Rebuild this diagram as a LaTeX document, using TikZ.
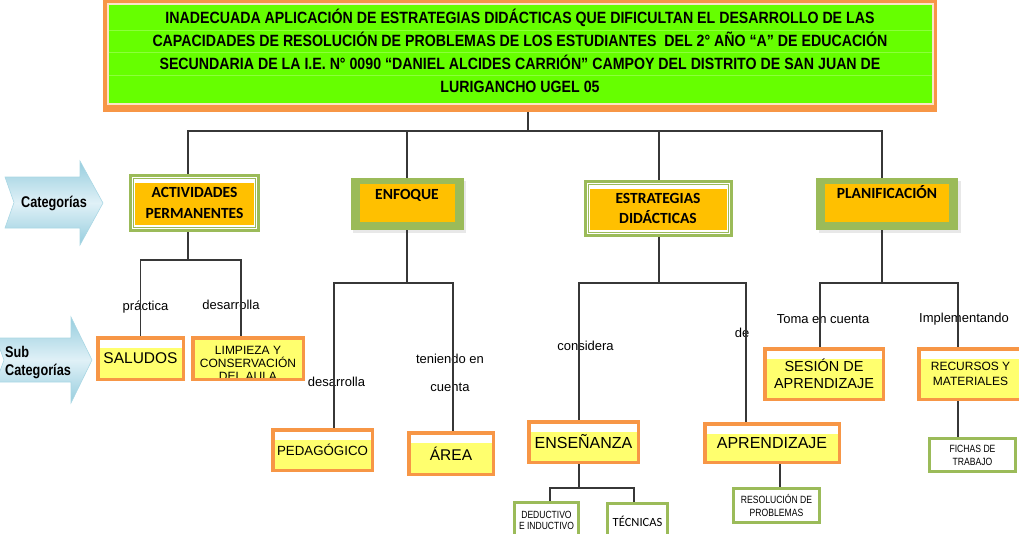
\documentclass[tikz,border=0pt]{standalone}
\usepackage{fontspec}
\setmainfont{Liberation Sans}
\newfontfamily\narrowfont{Liberation Sans}[FakeStretch=0.82]
\newfontfamily\headfont{Liberation Sans}[FakeStretch=0.87]
\newfontfamily\calfont{Carlito}
\usetikzlibrary{shadows}

\definecolor{boxorange}{RGB}{247,150,70}
\definecolor{boxyellow}{RGB}{255,255,110}
\definecolor{catgreen}{RGB}{155,187,89}
\definecolor{catorange}{RGB}{255,192,0}
\definecolor{headgreen}{RGB}{102,255,0}
\definecolor{rowgreen}{RGB}{140,255,60}
\definecolor{headpale}{RGB}{252,228,200}
\definecolor{arrowdark}{RGB}{150,205,222}
\definecolor{arrowlight}{RGB}{224,241,247}
\definecolor{arrowedge}{RGB}{170,215,228}
\definecolor{linkgray}{RGB}{55,55,55}

% fill an inset rectangle inside the current node: colour, side, top, bottom
\newcommand\insetfill[4]{%
  \fill[#1] ([shift={(#2,-#3)}]path picture bounding box.north west)
    rectangle ([shift={(-#2,#4)}]path picture bounding box.south east);}

\tikzset{
  headbox/.style={fill=boxorange, draw=none, inner sep=0pt, align=center,
    font=\headfont\bfseries\fontsize{16.3}{23}\selectfont,
    path picture={
      \insetfill{headpale}{3.5pt}{3.5pt}{7pt}
      \insetfill{headgreen}{5.5pt}{5.5pt}{9.5pt}
      \foreach \dy in {31,53.5,76}
        \draw[rowgreen, line width=0.7pt]
          ([shift={(5.5pt,-\dy pt)}]path picture bounding box.north west) --
          ([shift={(-5.5pt,-\dy pt)}]path picture bounding box.north east);
    }},
  catframed/.style={fill=catgreen, draw=none, inner sep=0pt, align=center,
    font=\calfont\bfseries\fontsize{15.5}{20.5}\selectfont,
    path picture={
      \insetfill{white}{3pt}{3pt}{3pt}
      \insetfill{catgreen}{4pt}{4pt}{4pt}
      \insetfill{white}{5pt}{5pt}{5pt}
      \insetfill{catorange}{6pt}{9pt}{7pt}
    }},
  catshadow/.style={fill=catgreen, draw=none, inner sep=0pt, align=center,
    font=\calfont\bfseries\fontsize{15.5}{20}\selectfont,
    drop shadow={shadow xshift=2.5pt, shadow yshift=-2.5pt, fill=black!18},
    path picture={
      \insetfill{catorange}{9pt}{6pt}{8pt}
    }},
  subbox/.style={draw=boxorange, line width=3.5pt, fill=boxyellow,
    inner sep=0pt, align=center,
    path picture={
      \fill[white] (path picture bounding box.north west) rectangle
        ([yshift=-10pt]path picture bounding box.north east);
    }},
  leafbox/.style={draw=catgreen, line width=3pt, fill=white, inner sep=0pt,
    align=center},
  link/.style={draw=linkgray, line width=1.1pt},
  verb/.style={inner sep=0pt, font=\fontsize{13}{28}\selectfont, align=center},
  sidetag/.style={inner sep=0pt, font=\narrowfont\bfseries\fontsize{15.5}{18}\selectfont},
  sidearrow/.style={top color=arrowdark, bottom color=arrowdark,
    middle color=arrowlight, draw=arrowedge, line width=0.6pt}
}

\begin{document}
\begin{tikzpicture}[x=1pt, y=-1pt]
\useasboundingbox (0,0) rectangle (1019,533);

% side arrows
\path[sidearrow] (5,177) -- (80,177) -- (80,161) -- (103,203) -- (80,245)
  -- (80,228) -- (5,228) -- (14,202.5) -- cycle;
\path[sidearrow] (-4,338) -- (71,338) -- (71,317) -- (92,360) -- (71,403)
  -- (71,382) -- (-4,382) -- (4,360) -- cycle;
\node[sidetag] (tagcat) at (54,203) {Categorías};
\node[sidetag, anchor=west, align=left] (tagsub) at (5,363) {Sub\\Categorías};

% main problem
\node[headbox, minimum width=834pt, minimum height=113pt, text depth=10pt]
  (head) at (520,55.5)
  {INADECUADA APLICACIÓN DE ESTRATEGIAS DIDÁCTICAS QUE DIFICULTAN EL DESARROLLO DE LAS\\
   CAPACIDADES DE RESOLUCIÓN DE PROBLEMAS DE LOS ESTUDIANTES~ DEL 2° AÑO “A” DE EDUCACIÓN\\
   SECUNDARIA DE LA I.E. N° 0090 “DANIEL ALCIDES CARRIÓN” CAMPOY DEL DISTRITO DE SAN JUAN DE\\
   LURIGANCHO UGEL 05};

% categories
\node[catframed, minimum width=131pt, minimum height=58pt] (act) at (194.5,203)
  {ACTIVIDADES\\PERMANENTES};
\node[catshadow, minimum width=113pt, minimum height=52pt,
  text height=12pt, text depth=21pt] (enf) at (407,204) {ENFOQUE};
\node[catframed, minimum width=149pt, minimum height=57pt] (est) at (658,208.5)
  {ESTRATEGIAS\\DIDÁCTICAS};
\node[catshadow, minimum width=142pt, minimum height=52pt,
  text height=12pt, text depth=24pt] (plan) at (887,204) {PLANIFICACIÓN};

% sub-categories
\node[subbox, minimum width=85.5pt, minimum height=41.5pt,
  font=\fontsize{15.5}{18}\selectfont] (salu) at (140.5,358.5) {SALUDOS};
\node[subbox, minimum width=110.5pt, minimum height=41.5pt,
  path picture={
    \node[font=\fontsize{12}{13.3}\selectfont, align=center, inner sep=0pt]
      (limptext) at ([yshift=-5pt]path picture bounding box.center)
      {LIMPIEZA Y\\CONSERVACIÓN\\DEL AULA};
  }] (limp) at (248,358.5) {};
\node[subbox, minimum width=99.5pt, minimum height=40.5pt,
  font=\fontsize{13.3}{16}\selectfont] (ped) at (322.5,450) {PEDAGÓGICO};
\node[subbox, minimum width=84.5pt, minimum height=41.5pt,
  font=\fontsize{15.5}{18}\selectfont] (area) at (451,453.5) {ÁREA};
\node[subbox, minimum width=109.5pt, minimum height=40.5pt,
  font=\fontsize{16}{18}\selectfont] (ens) at (583.5,442) {ENSEÑANZA};
\node[subbox, minimum width=134.5pt, minimum height=38.5pt,
  font=\fontsize{16}{18}\selectfont] (apr) at (772,443) {APRENDIZAJE};
\node[subbox, minimum width=118.5pt, minimum height=50.5pt,
  font=\fontsize{14.5}{17}\selectfont] (ses) at (824,374) {SESIÓN DE\\APRENDIZAJE};
\node[subbox, minimum width=103.5pt, minimum height=50.5pt,
  font=\fontsize{12}{15}\selectfont] (rec) at (970.5,374) {RECURSOS Y\\MATERIALES};

% leaves
\node[leafbox, minimum width=64pt, minimum height=35pt,
  font=\narrowfont\fontsize{10.4}{11}\selectfont] (ded) at (546.5,520)
  {DEDUCTIVO\\E INDUCTIVO};
\node[leafbox, minimum width=60pt, minimum height=35pt,
  font=\calfont\fontsize{12.5}{14}\selectfont] (tec) at (637.5,521) {TÉCNICAS};
\node[leafbox, minimum width=86pt, minimum height=34pt,
  font=\narrowfont\fontsize{10.5}{13}\selectfont] (res) at (776.5,505.5)
  {RESOLUCIÓN DE\\PROBLEMAS};
\node[leafbox, minimum width=86pt, minimum height=33pt,
  font=\narrowfont\fontsize{10.5}{13}\selectfont] (fich) at (972.5,455)
  {FICHAS DE\\TRABAJO};

% connector labels
\node[verb] (vprac) at (145.5,307) {práctica};
\node[verb] (vdes1) at (231,304.5) {desarrolla};
\node[verb] (vdes2) at (336.5,382) {desarrolla};
\node[verb] (vten) at (450,373) {teniendo en\\cuenta};
\node[verb] (vcon) at (585.5,346) {considera};
\node[verb] (vde) at (742,333) {de};
\node[verb] (vtoma) at (823,319) {Toma en cuenta};
\node[verb] (vimp) at (964,319) {Implementando};

% tree connectors
\coordinate (hubTop) at (528,131);
\draw[link] (head.south -| hubTop) -- (hubTop);
\draw[link] (hubTop) -| ([xshift=-6.5pt]act.north);
\draw[link] (hubTop) -| (enf.north);
\draw[link] (hubTop) -| ([xshift=1pt]est.north);
\draw[link] (hubTop) -| ([xshift=-5pt]plan.north);

\coordinate (hubAct) at (188,260);
\draw[link] ([xshift=-6.5pt]act.south) -- (hubAct);
\draw[link] (hubAct) -| (salu.north);
\draw[link] (hubAct) -| ([xshift=-7pt]limp.north);

\coordinate (hubEnf) at (407,283);
\draw[link] (enf.south) -- (hubEnf);
\draw[link] (hubEnf) -| ([xshift=11.5pt]ped.north);
\draw[link] (hubEnf) -| ([xshift=2pt]area.north);

\coordinate (hubEst) at (659,283);
\draw[link] ([xshift=1pt]est.south) -- (hubEst);
\draw[link] (hubEst) -| ([xshift=-4.5pt]ens.north);
\draw[link] (hubEst) -| ([xshift=-26pt]apr.north);

\coordinate (hubEns) at (579,488);
\draw[link] ([xshift=-4.5pt]ens.south) -- (hubEns);
\draw[link] (hubEns) -| ([xshift=3.5pt]ded.north);
\draw[link] (hubEns) -| ([xshift=-3.5pt]tec.north);

\draw[link] ([xshift=8pt]apr.south) -- ([xshift=3.5pt]res.north);

\coordinate (hubPlan) at (882,283);
\draw[link] ([xshift=-5pt]plan.south) -- (hubPlan);
\draw[link] (hubPlan) -| ([xshift=-4pt]ses.north);
\draw[link] (hubPlan) -| ([xshift=-12.5pt]rec.north);
\draw[link] ([xshift=-12.5pt]rec.south) -- ([xshift=-14.5pt]fich.north);
\end{tikzpicture}
\end{document}
